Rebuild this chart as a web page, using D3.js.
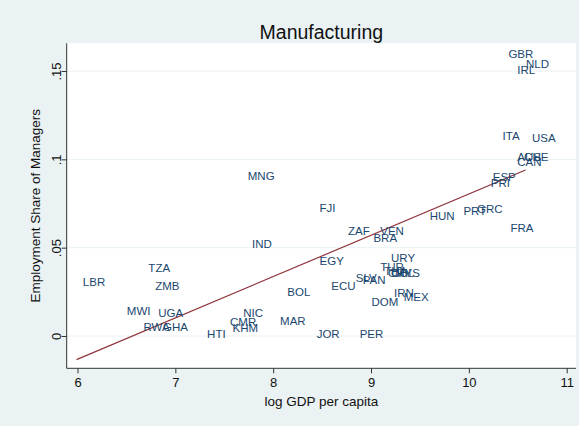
<!DOCTYPE html>
<html><head><meta charset="utf-8">
<script src="https://cdn.jsdelivr.net/npm/d3@7"></script>
<style>body{margin:0;background:#fff;}svg{display:block;font-family:"Liberation Sans",Arial,sans-serif;}</style>
</head><body><svg id="c" width="579" height="426"></svg>
<script>
const countries = ["GBR","NLD","IRL","ITA","USA","AUS","CHE","CAN","ESP","PRI","PRT","GRC","FRA","HUN",
  "MNG","FJI","ZAF","VEN","BRA","IND","EGY","URY","ECU","BOL","SLV","PAN","TUR","THA","CRI","COL","MYS",
  "IRN","MEX","DOM","NIC","CMR","KHM","MAR","HTI","JOR","PER","LBR","TZA","ZMB","MWI","UGA","RWA","GHA"];
const logGdp = [10.34,10.52,10.43,10.28,10.58,10.43,10.50,10.43,10.18,10.16,9.88,10.02,10.36,9.535,
  7.676,8.41,8.70,9.03,8.96,7.72,8.41,9.14,8.53,8.08,8.78,8.85,9.03,9.07,9.11,9.14,9.18,
  9.17,9.27,8.94,7.63,7.495,7.52,8.006,7.26,8.38,8.82,5.99,6.66,6.73,6.44,6.76,6.61,6.81];
const mgrShare = [0.1596,0.1542,0.1506,0.1134,0.1119,0.1015,0.1015,0.0983,0.0902,0.0868,0.0709,0.0719,0.0610,0.0679,
  0.0907,0.0723,0.0594,0.0596,0.0553,0.0521,0.0426,0.0443,0.0285,0.0249,0.0330,0.0317,0.0392,0.0370,0.0358,0.0355,0.0356,
  0.0245,0.0219,0.0191,0.0132,0.0081,0.0047,0.0087,0.0010,0.0010,0.0010,0.0304,0.0387,0.0285,0.0142,0.0128,0.0049,0.0053];
const fitX = [5.99, 10.58];
const fitY = [-0.0134, 0.0940];
const xTicks = [6,7,8,9,10,11];
const yTicks = [0,0.05,0.1,0.15];
const yTickLabels = ["0",".05",".1",".15"];

const W=579,H=426;
const L=66.7,R=576,T=43.3,B=368.3;
const svg=d3.select("#c");
svg.append("rect").attr("width",W).attr("height",H).attr("fill","#eaf2f3");
svg.append("rect").attr("x",L).attr("y",T).attr("width",R-L).attr("height",B-T).attr("fill","#fff");

const x=d3.scaleLinear().domain([6,11]).range([77.5,566.7]);
const y=d3.scaleLinear().domain([0,0.15]).range([336,71]);

// grid
svg.append("g").selectAll("line").data(yTicks).join("line")
  .attr("x1",L).attr("x2",R).attr("y1",d=>y(d)).attr("y2",d=>y(d))
  .attr("stroke","#eaf2f3").attr("stroke-width",1);

const FF="Liberation Sans, Arial, sans-serif";
// axes
const xa=svg.append("g").attr("transform",`translate(0,${B})`)
  .call(d3.axisBottom(x).tickValues(xTicks).tickSize(5).tickPadding(4).tickFormat(d3.format("d")));
xa.select(".domain").attr("d",`M${L},0H${R}`).attr("stroke","#333");
xa.selectAll(".tick line").attr("stroke","#333");
xa.selectAll("text").attr("font-size",13).attr("fill","#111").attr("font-family",FF);

const ya=svg.append("g").attr("transform",`translate(${L},0)`)
  .call(d3.axisLeft(y).tickValues(yTicks).tickSize(5).tickFormat((d,i)=>yTickLabels[i]));
ya.select(".domain").attr("d",`M0,${T}V${B}`).attr("stroke","#333");
ya.selectAll(".tick line").attr("stroke","#333");
ya.selectAll("text").attr("font-size",13).attr("fill","#111").attr("font-family",FF)
  .attr("text-anchor","middle").attr("dy",null).attr("x",null)
  .attr("transform","translate(-9,0) rotate(-90)").attr("dominant-baseline","middle");

// fit line
svg.append("path").datum(fitX.map((v,i)=>[v,fitY[i]]))
  .attr("d",d3.line().x(d=>x(d[0])).y(d=>y(d[1])))
  .attr("stroke","#90353b").attr("stroke-width",1.2).attr("fill","none");

// labels
svg.append("g").selectAll("text").data(countries).join("text")
  .attr("x",(d,i)=>x(logGdp[i])+6.3).attr("y",(d,i)=>y(mgrShare[i]))
  .attr("dominant-baseline","central").attr("font-size",11.5).attr("fill","#1a476f")
  .text(d=>d);

// titles
svg.append("text").attr("x",(L+R)/2).attr("y",32).attr("text-anchor","middle").attr("dominant-baseline","central")
  .attr("font-size",19.5).attr("fill","#111").text("Manufacturing");
svg.append("text").attr("x",(L+R)/2).attr("y",401).attr("text-anchor","middle").attr("dominant-baseline","central")
  .attr("font-size",13.5).attr("fill","#111").text("log GDP per capita");
svg.append("text").attr("transform",`translate(35,${(T+B)/2}) rotate(-90)`).attr("text-anchor","middle").attr("dominant-baseline","central")
  .attr("font-size",13.5).attr("fill","#111").text("Employment Share of Managers");
</script></body></html>
